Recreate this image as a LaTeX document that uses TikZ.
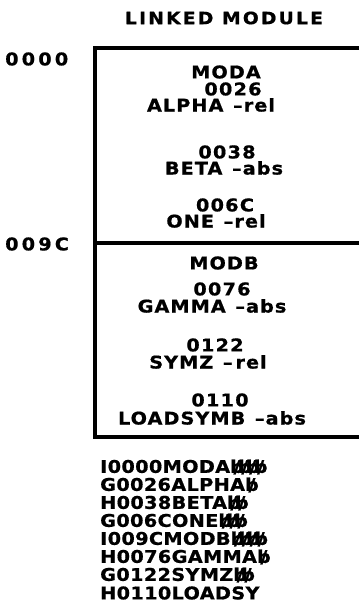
\documentclass[tikz,border=0pt]{standalone}
\usepackage{fontspec}
\setmainfont{DejaVu Sans}[FakeStretch=1.1,BoldFeatures={FakeBold=0.8}]
\usetikzlibrary{positioning}
\newcommand{\bl}{\makebox[0.45em][l]{\ooalign{b\cr\hidewidth/\hidewidth\cr}}}
\newcommand{\gap}{\hspace{0.55em}}
\tikzset{
  modtext/.style={font=\bfseries\fontsize{17.5}{17.5}\selectfont\addfontfeature{LetterSpace=6},inner sep=0pt},
  numtext/.style={font=\bfseries\fontsize{17.5}{17.5}\selectfont\addfontfeature{LetterSpace=7},inner sep=0pt},
  addr/.style={font=\bfseries\fontsize{17.5}{17.5}\selectfont\addfontfeature{LetterSpace=18},inner sep=0pt,anchor=west},
  card/.style={font=\bfseries\fontsize{17.5}{17.5}\selectfont\addfontfeature{LetterSpace=2},inner sep=0pt,anchor=west},
  edge/.style={draw=black,line width=3.5pt},
}
\begin{document}
\begin{tikzpicture}[x=1pt,y=-1pt]
  \useasboundingbox (0,0) rectangle (359,607);
  \node[font=\bfseries\fontsize{17}{17}\selectfont\addfontfeature{LetterSpace=13},inner sep=0pt] (title) at (224,18) {LINKED MODULE};
  % the module box
  \draw[edge] (359,48) -- (95,48) -- (95,437) -- (359,437);
  \draw[edge] (95,243) -- (359,243);
  \node[addr] (lo) at (5,59) {0000};
  \node[addr] (hi) at (5,244) {009C};
  % MODA
  \node[modtext] (moda)  at (226,72)  {MODA};
  \node[numtext] (a26)   at (233,89)  {0026};
  \node[modtext] (alpha) at (211,105) {ALPHA\gap–rel};
  \node[numtext] (a38)   at (227,152) {0038};
  \node[modtext] (beta)  at (224,168) {BETA\gap–abs};
  \node[numtext] (a6c)   at (225,205) {006C};
  \node[modtext] (one)   at (216,221) {ONE\gap–rel};
  % MODB
  \node[modtext] (modb)  at (224,263) {MODB};
  \node[numtext] (a76)   at (222,289) {0076};
  \node[modtext] (gamma) at (212,306) {GAMMA\gap–abs};
  \node[numtext] (a122)  at (215,345) {0122};
  \node[modtext] (symz)  at (208,362) {SYMZ\gap–\,rel};
  \node[numtext] (a110)  at (220,400) {0110};
  \node[modtext] (load)  at (212,418) {LOADSYMB\gap–abs};
  % the object cards
  \node[card] (c1) at (100,467) {I0000MODA\bl\bl\bl\bl};
  \node[card] (c2) at (100,485) {G0026ALPHA\bl};
  \node[card] (c3) at (100,503) {H0038BETA\bl\bl};
  \node[card] (c4) at (100,521) {G006CONE\bl\bl\bl};
  \node[card] (c5) at (100,539) {I009CMODB\bl\bl\bl\bl};
  \node[card] (c6) at (100,557) {H0076GAMMA\bl};
  \node[card] (c7) at (100,575) {G0122SYMZ\bl\bl};
  \node[card] (c8) at (100,593) {H0110LOADSY};
\end{tikzpicture}
\end{document}
